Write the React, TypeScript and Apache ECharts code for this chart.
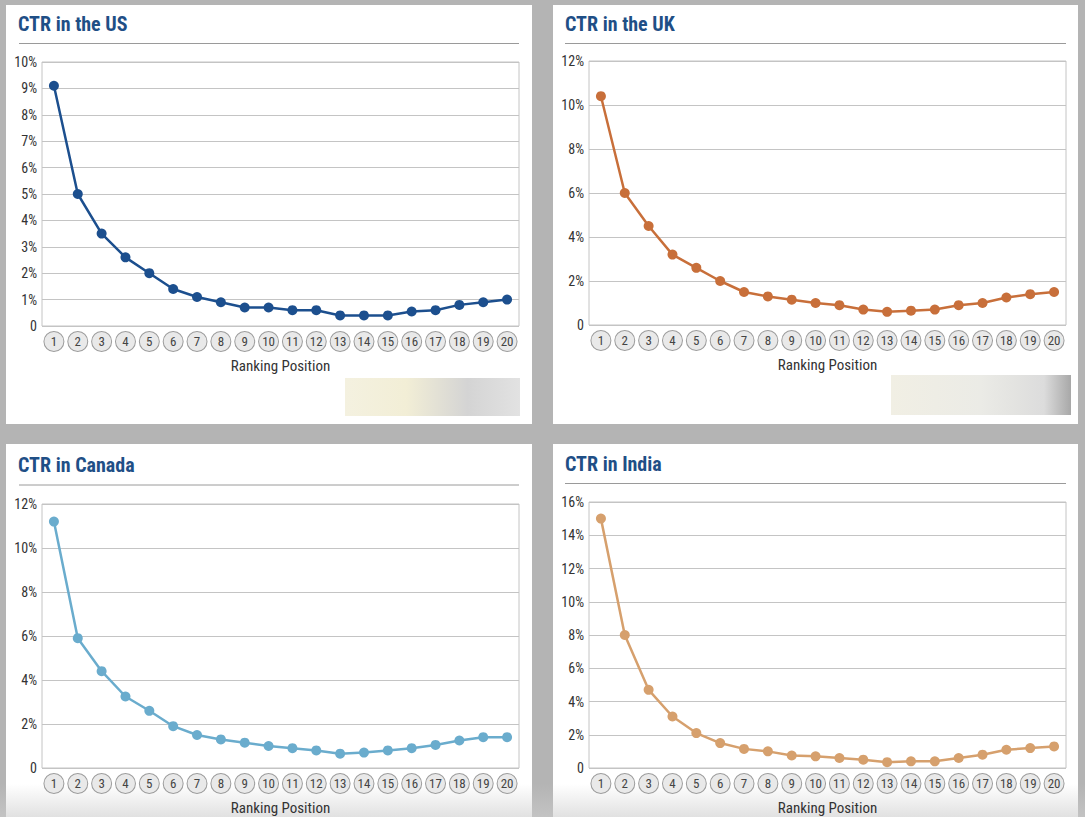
import React, { useEffect, useRef } from 'react';
import * as echarts from 'echarts';

const positions = ['1', '2', '3', '4', '5', '6', '7', '8', '9', '10', '11', '12', '13', '14', '15', '16', '17', '18', '19', '20'];
const usCtr = [9.1, 5.0, 3.5, 2.6, 2.0, 1.4, 1.1, 0.9, 0.7, 0.7, 0.6, 0.6, 0.4, 0.4, 0.4, 0.55, 0.6, 0.8, 0.9, 1.0];
const ukCtr = [10.4, 6.0, 4.5, 3.2, 2.6, 2.0, 1.5, 1.3, 1.15, 1.0, 0.9, 0.7, 0.6, 0.65, 0.7, 0.9, 1.0, 1.25, 1.4, 1.5];
const caCtr = [11.2, 5.9, 4.4, 3.25, 2.6, 1.9, 1.5, 1.3, 1.15, 1.0, 0.9, 0.8, 0.65, 0.7, 0.8, 0.9, 1.05, 1.25, 1.4, 1.4];
const inCtr = [15.0, 8.0, 4.7, 3.1, 2.1, 1.5, 1.15, 1.0, 0.75, 0.7, 0.6, 0.5, 0.35, 0.4, 0.4, 0.6, 0.8, 1.1, 1.2, 1.3];
const titles = ['CTR in the US', 'CTR in the UK', 'CTR in Canada', 'CTR in India'];
const yMax = [10, 12, 12, 16];
const yStep = [1, 2, 2, 2];
const xAxisName = 'Ranking Position';

const FONT = "'Roboto Condensed', 'Liberation Sans Narrow', 'DejaVu Sans Condensed', Roboto, sans-serif";

export default function App() {
  const ref = useRef<HTMLDivElement>(null);
  useEffect(() => {
    if (!ref.current) return;
    const chart = echarts.init(ref.current, undefined, { renderer: 'svg' });
    const seriesData = [usCtr, ukCtr, caCtr, inCtr];
    const colors = ['#1c4f8e', '#c86f3a', '#6aaccd', '#d6a06d'];
    const grids = [
      { left: 42, top: 62, width: 477, height: 264 },
      { left: 589, top: 61, width: 477, height: 264 },
      { left: 42, top: 504, width: 477, height: 264 },
      { left: 589, top: 502, width: 477, height: 266 },
    ];
    const panels = [
      [6, 5, 526, 419],
      [553, 5, 525, 419],
      [6, 444, 526, 373],
      [553, 444, 525, 373],
    ];
    const titlePos = [
      [18, 14],
      [565, 14],
      [18, 455],
      [565, 454],
    ];
    const sepLines = [
      [19, 519, 43.5],
      [565, 1066, 43.5],
      [19, 519, 485],
      [565, 1066, 483.5],
    ];
    const graphic: any[] = [];
    panels.forEach((p) => {
      graphic.push({
        type: 'rect',
        z: -100,
        shape: { x: p[0], y: p[1], width: p[2], height: p[3] },
        style: { fill: '#ffffff' },
        silent: true,
      });
    });
    sepLines.forEach((l) => {
      graphic.push({
        type: 'line',
        z: -50,
        shape: { x1: l[0], y1: l[2], x2: l[1], y2: l[2] },
        style: { stroke: '#9a9a9a', lineWidth: 1 },
        silent: true,
      });
    });
    graphic.push({
      type: 'rect',
      z: -50,
      shape: { x: 345, y: 378, width: 175, height: 38 },
      style: {
        fill: new echarts.graphic.LinearGradient(0, 0, 1, 0, [
          { offset: 0, color: '#f4f1e0' },
          { offset: 0.35, color: '#f2eed6' },
          { offset: 0.7, color: '#d4d4d4' },
          { offset: 1, color: '#e2e2e2' },
        ]),
      },
      silent: true,
    });
    graphic.push({
      type: 'rect',
      z: -50,
      shape: { x: 891, y: 375, width: 180, height: 40 },
      style: {
        fill: new echarts.graphic.LinearGradient(0, 0, 1, 0, [
          { offset: 0, color: '#f1efe4' },
          { offset: 0.5, color: '#ebebe6' },
          { offset: 0.85, color: '#dcdcdc' },
          { offset: 1, color: '#a8a8a8' },
        ]),
      },
      silent: true,
    });
    graphic.push({
      type: 'rect',
      z: -40,
      shape: { x: 0, y: 784, width: 1085, height: 33 },
      style: {
        fill: new echarts.graphic.LinearGradient(0, 0, 0, 1, [
          { offset: 0, color: 'rgba(205,205,205,0)' },
          { offset: 1, color: 'rgba(205,205,205,0.6)' },
        ]),
      },
      silent: true,
    });

    const option: any = {
      animation: false,
      backgroundColor: '#b4b4b4',
      textStyle: { fontFamily: FONT },
      title: titles.map((t, i) => ({
        text: t,
        left: titlePos[i][0],
        top: titlePos[i][1],
        padding: 0,
        textStyle: { fontFamily: FONT, fontSize: 20, fontWeight: 'bold', color: '#1f4f86' },
      })),
      graphic,
      grid: grids.map((g) => ({
        ...g,
        show: true,
        backgroundColor: 'transparent',
        borderColor: '#c4c4c4',
        borderWidth: 1,
        containLabel: false,
      })),
      xAxis: grids.map((_, i) => ({
        type: 'category',
        gridIndex: i,
        data: positions,
        boundaryGap: true,
        name: xAxisName,
        nameLocation: 'middle',
        nameGap: 32,
        nameTextStyle: { fontFamily: FONT, fontSize: 15, color: '#333' },
        axisLine: { show: false },
        axisTick: { show: false },
        splitLine: { show: false },
        axisLabel: {
          interval: 0,
          margin: 6,
          fontFamily: FONT,
          fontSize: 13,
          color: '#444',
          backgroundColor: '#e9e9e9',
          borderColor: '#9c9c9c',
          borderWidth: 1,
          borderRadius: 10,
          width: 19,
          height: 19,
          lineHeight: 19,
          align: 'center',
          padding: 0,
        },
      })),
      yAxis: grids.map((_, i) => ({
        type: 'value',
        gridIndex: i,
        min: 0,
        max: yMax[i],
        interval: yStep[i],
        axisLine: { show: false },
        axisTick: { show: false },
        splitLine: { show: true, lineStyle: { color: '#c4c4c4', width: 1 } },
        axisLabel: {
          margin: 5,
          fontFamily: FONT,
          fontSize: 14,
          color: '#333',
          formatter: (v: number) => (v === 0 ? '0' : v + '%'),
        },
      })),
      series: seriesData.map((d, i) => ({
        type: 'line',
        xAxisIndex: i,
        yAxisIndex: i,
        data: d,
        symbol: 'circle',
        symbolSize: 10,
        lineStyle: { color: colors[i], width: 2.5 },
        itemStyle: { color: colors[i] },
        z: 5,
      })),
    };
    chart.setOption(option);
    return () => chart.dispose();
  }, []);
  return (
    <div
      ref={ref}
      style={{ position: 'fixed', left: 0, top: 0, width: 1085, height: 817 }}
    />
  );
}
